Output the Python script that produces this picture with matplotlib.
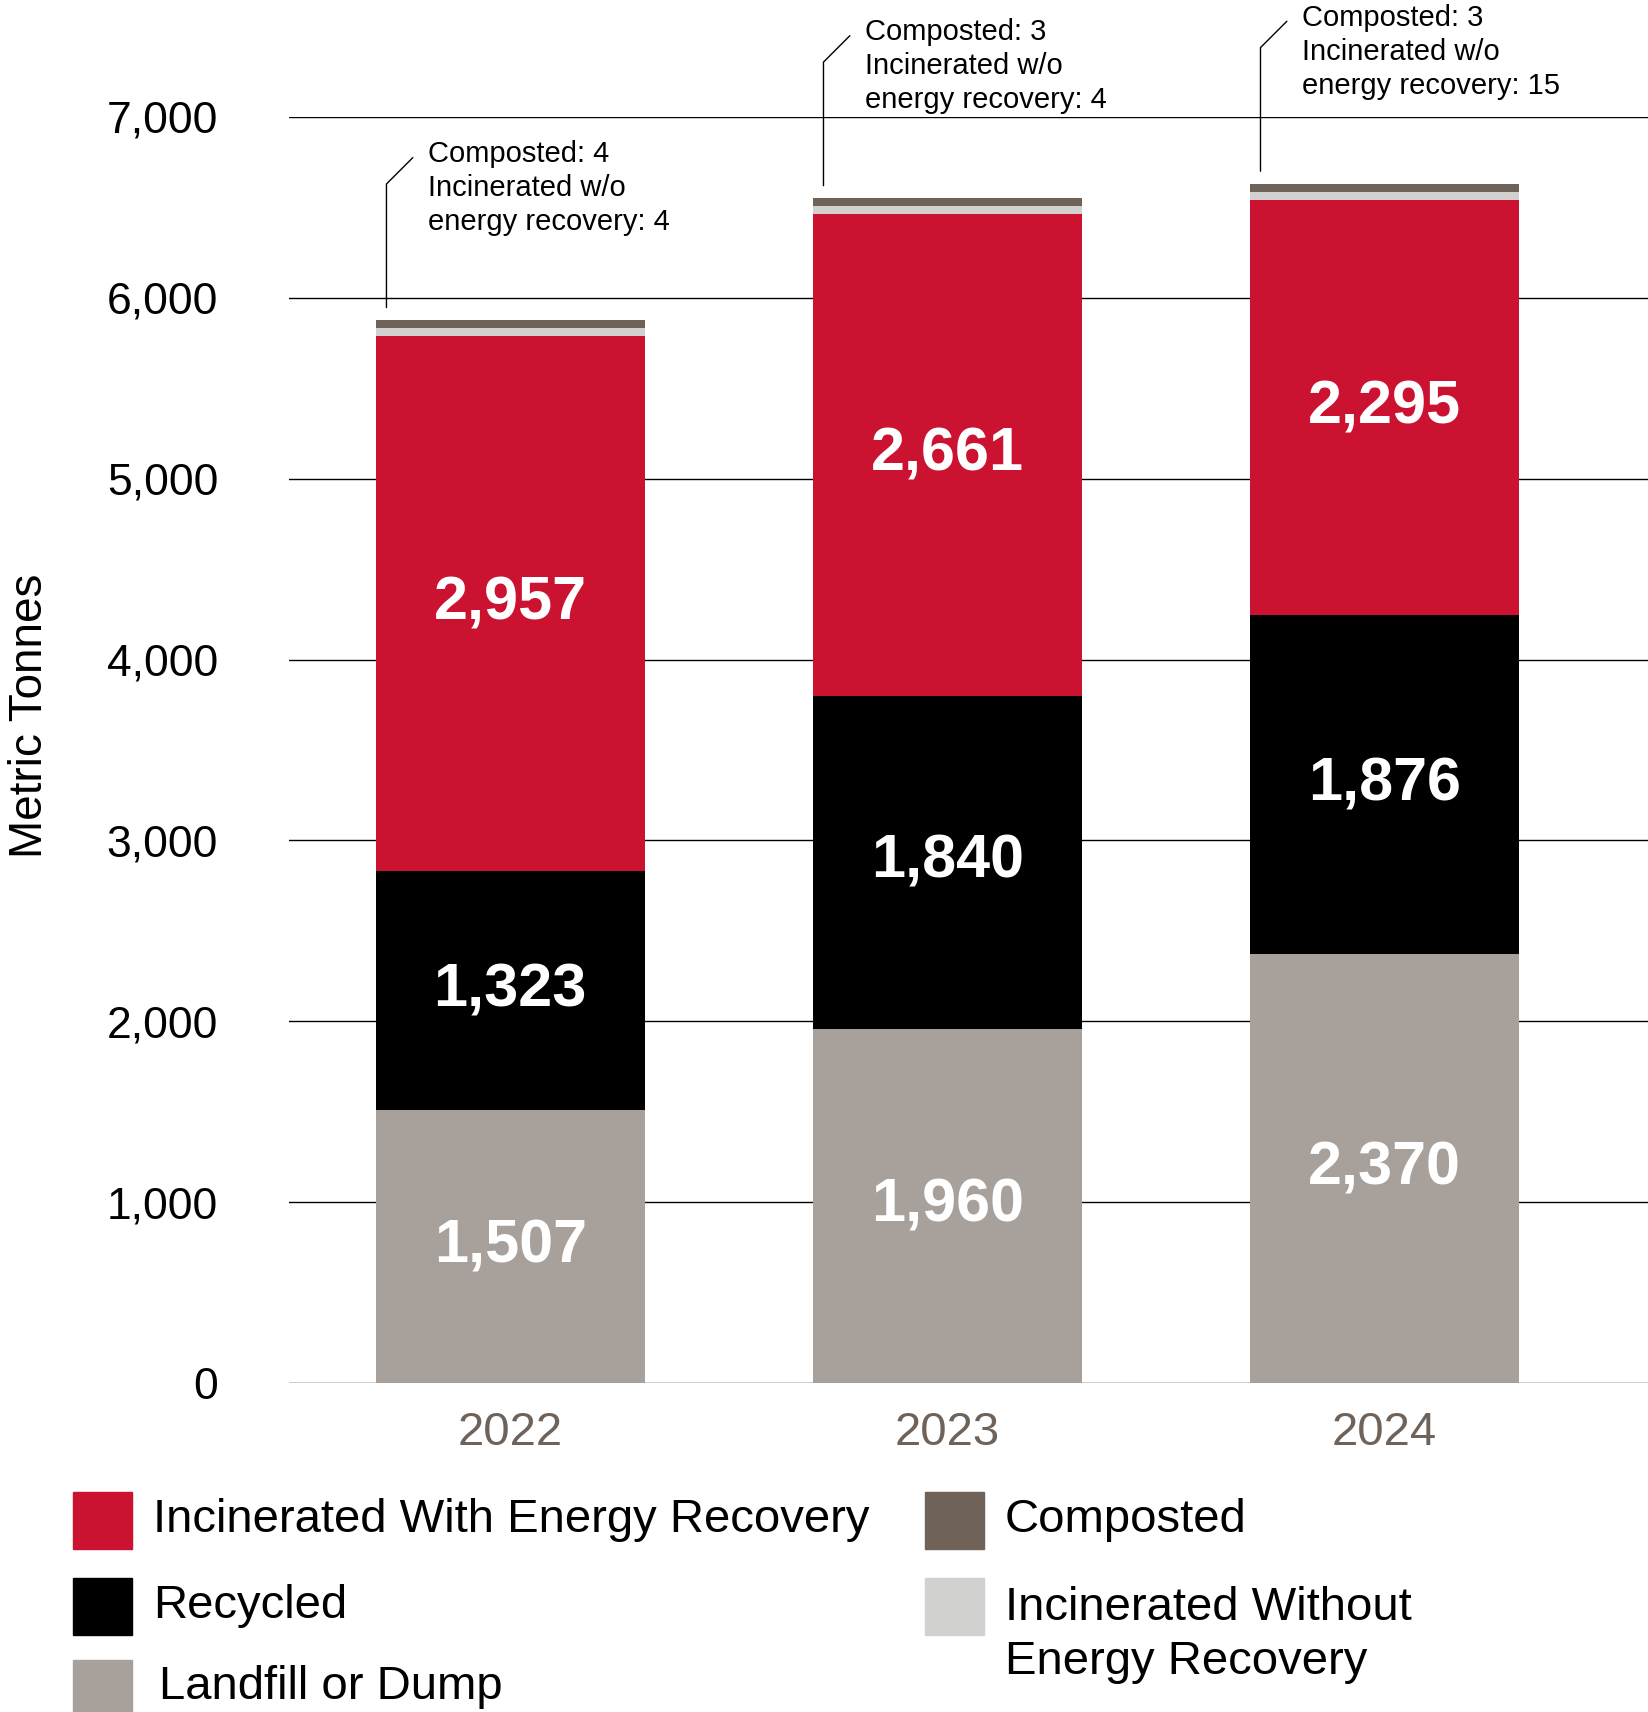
import matplotlib
matplotlib.use("Agg")
from matplotlib import pyplot as plt
from matplotlib.patches import Rectangle
import numpy as np

plt.rcParams['font.family'] = ['Liberation Sans', 'DejaVu Sans']

########################################################
# data (metric tonnes)
years = ['2022', '2023', '2024']
landfill = [1507, 1960, 2370]
recycled = [1323, 1840, 1876]
incinerated_energy = [2957, 2661, 2295]
incinerated_no_energy = [4, 4, 15]
composted = [4, 3, 3]

labels = ['Landfill or Dump', 'Recycled', 'Incinerated With Energy Recovery',
          'Incinerated Without\nEnergy Recovery', 'Composted']
colors = ['#A8A09B', '#000000', '#CB1230', '#D1D1CF', '#6E6259']

########################################################
W, H = 1649, 1712
fig = plt.figure(figsize=(W / 100, H / 100), dpi=100)
ax = fig.add_axes([289 / W, 1 - 1383 / H, 1 - 289 / W, (1383 - 117) / H])

x = np.arange(len(years))
bw = 0.616
min_visible = 45  # tiny segments get a minimum drawn height so they show

series = [landfill, recycled, incinerated_energy, incinerated_no_energy, composted]
bottom = np.zeros(len(years))
for vals, col in zip(series, colors):
    vals = np.array(vals, dtype=float)
    h = np.maximum(vals, min_visible)
    ax.bar(x, h, bw, bottom=bottom, color=col, zorder=2)
    if vals.min() > 500:
        for xi, b, v in zip(x, bottom, vals):
            ax.text(xi, b + v / 2, f"{int(v):,}", ha='center', va='center',
                    color='white', fontsize=44, fontweight='bold', zorder=3)
    bottom = bottom + h

# leader notes for the small categories
for xi, top, c, n in zip(x, bottom, composted, incinerated_no_energy):
    xl = xi - bw / 2 + 0.025
    ax.annotate('', xy=(xl, top), xytext=(19, 117), textcoords='offset points',
                arrowprops=dict(arrowstyle='-', color='black', lw=1.0,
                                shrinkA=0, shrinkB=9,
                                connectionstyle='angle,angleA=45,angleB=90,rad=0'),
                annotation_clip=False)
    ax.annotate(f"Composted: {c}\nIncinerated w/o\nenergy recovery: {n}",
                xy=(xl, top), xytext=(30, 95), textcoords='offset points',
                ha='left', va='center', fontsize=21, linespacing=1.28,
                annotation_clip=False)

ax.set_xlim(-0.506, 2.606)
ax.set_ylim(0, 7000)
ax.set_yticks(np.arange(0, 7001, 1000))
ax.set_yticklabels([f"{v:,}" for v in range(0, 7001, 1000)])
ax.set_xticks(x)
ax.set_xticklabels(years)
ax.tick_params(axis='y', length=0, pad=51, labelsize=32)
ax.tick_params(axis='x', length=0, pad=20, labelsize=34, labelcolor='#6E6259')
ax.yaxis.grid(True, color='black', linewidth=1.0, zorder=1)
ax.set_axisbelow(True)
for s in ax.spines.values():
    s.set_visible(False)

fig.text(30 / W, 1 - 716 / H, 'Metric Tonnes', rotation=90, ha='center',
         va='center', fontsize=33)

########################################################
# legend
def swatch(x0, y0, col):
    fig.add_artist(Rectangle((x0 / W, 1 - (y0 + 57) / H), 59 / W, 57 / H,
                             transform=fig.transFigure, color=col))

legend_rows = [
    (73, 1492, 153, 1520, 2),
    (73, 1578, 153, 1606, 1),
    (73, 1660, 159, 1687, 0),
    (925, 1492, 1005, 1520, 4),
    (925, 1578, 1005, 1635, 3),
]
for sx, sy, tx, ty, k in legend_rows:
    swatch(sx, sy, colors[k])
    fig.text(tx / W, 1 - ty / H, labels[k], ha='left', va='center',
             fontsize=34, linespacing=1.3)

plt.savefig('out.png', dpi=100)
